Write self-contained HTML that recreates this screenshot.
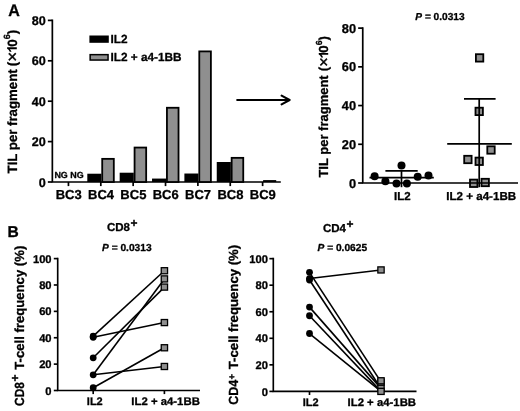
<!DOCTYPE html><html><head><meta charset="utf-8"><style>
html,body{margin:0;padding:0;background:#fff;}
svg{will-change:transform;}
svg{display:block;font-family:"Liberation Sans",sans-serif;font-weight:bold;fill:#000;}
text{stroke:#000;stroke-width:0.3px;stroke-linejoin:round;text-rendering:geometricPrecision;}
</style></head><body>
<svg width="520" height="411" viewBox="0 0 520 411">
<rect x="0" y="0" width="520" height="411" fill="#fff"/>
<text x="8.2" y="15.9" font-size="16.8" textLength="11.6" lengthAdjust="spacingAndGlyphs">A</text>
<text x="7.4" y="236.6" font-size="15.6">B</text>
<g stroke="#000" stroke-width="1.7" fill="none">
<path d="M52.35 19.550000000000004 V182.0 H280.8"/>
<path d="M47.85 182.0 H52.35"/>
<path d="M47.85 141.6 H52.35"/>
<path d="M47.85 101.2 H52.35"/>
<path d="M47.85 60.8 H52.35"/>
<path d="M47.85 20.400000000000006 H52.35"/>
</g>
<text x="45.75" y="186.5" font-size="12.6" text-anchor="end">0</text>
<text x="45.75" y="146.1" font-size="12.6" text-anchor="end">20</text>
<text x="45.75" y="105.7" font-size="12.6" text-anchor="end">40</text>
<text x="45.75" y="65.3" font-size="12.6" text-anchor="end">60</text>
<text x="45.75" y="24.900000000000006" font-size="12.6" text-anchor="end">80</text>
<path d="M68.45 182.0 V186.1" stroke="#000" stroke-width="1.7"/>
<text x="68.65" y="199.4" font-size="13" text-anchor="middle">BC3</text>
<text x="54.4" y="178.0" font-size="8.8" textLength="29.2" lengthAdjust="spacingAndGlyphs">NG NG</text>
<path d="M100.81 182.0 V186.1" stroke="#000" stroke-width="1.7"/>
<text x="101.01" y="199.4" font-size="13" text-anchor="middle">BC4</text>
<rect x="87.31" y="173.72" width="14.1" height="8.28" fill="#000"/>
<rect x="102.21" y="158.86" width="11.60" height="23.14" fill="#8f8f8f" stroke="#000" stroke-width="1.8"/>
<path d="M133.17000000000002 182.0 V186.1" stroke="#000" stroke-width="1.7"/>
<text x="133.37" y="199.4" font-size="13" text-anchor="middle">BC5</text>
<rect x="119.67" y="172.71" width="14.1" height="9.29" fill="#000"/>
<rect x="134.57" y="147.55" width="11.60" height="34.45" fill="#8f8f8f" stroke="#000" stroke-width="1.8"/>
<path d="M165.53 182.0 V186.1" stroke="#000" stroke-width="1.7"/>
<text x="165.73" y="199.4" font-size="13" text-anchor="middle">BC6</text>
<rect x="152.03" y="178.57" width="14.1" height="3.43" fill="#000"/>
<rect x="166.93" y="107.76" width="11.60" height="74.24" fill="#8f8f8f" stroke="#000" stroke-width="1.8"/>
<path d="M197.89 182.0 V186.1" stroke="#000" stroke-width="1.7"/>
<text x="198.08999999999997" y="199.4" font-size="13" text-anchor="middle">BC7</text>
<rect x="184.39" y="173.52" width="14.1" height="8.48" fill="#000"/>
<rect x="199.29" y="51.40" width="11.60" height="130.60" fill="#8f8f8f" stroke="#000" stroke-width="1.8"/>
<path d="M230.25 182.0 V186.1" stroke="#000" stroke-width="1.7"/>
<text x="230.45" y="199.4" font-size="13" text-anchor="middle">BC8</text>
<rect x="216.75" y="162.00" width="14.1" height="20.00" fill="#000"/>
<rect x="231.65" y="157.85" width="11.60" height="24.15" fill="#8f8f8f" stroke="#000" stroke-width="1.8"/>
<path d="M262.61 182.0 V186.1" stroke="#000" stroke-width="1.7"/>
<text x="262.81" y="199.4" font-size="13" text-anchor="middle">BC9</text>
<rect x="263.11" y="180.10" width="13.10" height="1.9" fill="#000"/>
<rect x="89.4" y="35.5" width="19.4" height="7.3" fill="#000"/>
<rect x="90.15" y="54.65" width="17.9" height="5.4" fill="#8f8f8f" stroke="#000" stroke-width="1.5"/>
<text x="110.5" y="43.3" font-size="11.8">IL2</text>
<text x="110.5" y="61.4" font-size="11.8">IL2 + a4-1BB</text>
<g transform="translate(16.8,173.4) rotate(-90)" font-size="13.4">
<text x="0" y="0" textLength="104.0" lengthAdjust="spacingAndGlyphs">TIL per fragment</text>
<text x="109.45" y="0" text-anchor="middle">(</text>
<text x="116.65" y="0.7" font-size="17" font-weight="normal" text-anchor="middle" style="stroke-width:0.4px">×</text>
<text x="134.1" y="0" text-anchor="end">0</text>
<path transform="translate(120.6,0) scale(13.4,-13.4)" d="M0.41 0 L0.41 0.722 L0.296 0.722 Q0.25 0.6 0.07 0.525 L0.07 0.39 Q0.19 0.43 0.27 0.517 L0.27 0 Z" stroke="none"/>
<text x="136.65" y="-6.9" font-size="9" text-anchor="middle">6</text>
<text x="139.1" y="0">)</text>
</g>
<path d="M237.2 100 H289.5 M281.6 95.7 L289.6 100 L281.6 104.3" stroke="#000" stroke-width="2.1" fill="none" stroke-linecap="round" stroke-linejoin="round"/>
<circle cx="374.6" cy="176.2" r="4"/>
<circle cx="385.4" cy="181.2" r="4"/>
<circle cx="396.5" cy="183.4" r="4"/>
<circle cx="406.9" cy="183.4" r="4"/>
<circle cx="401.5" cy="165.4" r="4"/>
<circle cx="417.7" cy="176.8" r="4"/>
<circle cx="428.5" cy="175.4" r="4"/>
<rect x="475.90000000000003" y="54.199999999999996" width="7.4" height="7.4" fill="#8f8f8f" stroke="#000" stroke-width="1.8"/>
<rect x="475.5" y="107.7" width="7.4" height="7.4" fill="#8f8f8f" stroke="#000" stroke-width="1.8"/>
<rect x="487.3" y="146.3" width="7.4" height="7.4" fill="#8f8f8f" stroke="#000" stroke-width="1.8"/>
<rect x="464.2" y="155.8" width="7.4" height="7.4" fill="#8f8f8f" stroke="#000" stroke-width="1.8"/>
<rect x="475.5" y="157.60000000000002" width="7.4" height="7.4" fill="#8f8f8f" stroke="#000" stroke-width="1.8"/>
<rect x="470.0" y="179.60000000000002" width="7.4" height="7.4" fill="#8f8f8f" stroke="#000" stroke-width="1.8"/>
<rect x="481.5" y="178.8" width="7.4" height="7.4" fill="#8f8f8f" stroke="#000" stroke-width="1.8"/>
<g stroke="#000" stroke-width="1.7" fill="none">
<path d="M369.5 177.7 H433.8 M385.4 170.8 H417.7 M401.5 170.8 V183"/>
<path d="M447.2 143.8 H511.8 M464 98.9 H495.6 M479.2 98.9 V183"/>
</g>
<g stroke="#000" stroke-width="1.7" fill="none">
<path d="M362.75 27.270000000000003 V183.0 H518"/>
<path d="M358.15 183.00 H362.75"/>
<path d="M358.15 144.28 H362.75"/>
<path d="M358.15 105.56 H362.75"/>
<path d="M358.15 66.84 H362.75"/>
<path d="M358.15 28.12 H362.75"/>
<path d="M401.5 183.0 V187.2"/>
<path d="M479.2 183.0 V187.2"/>
</g>
<text x="356.05" y="187.50" font-size="12.8" text-anchor="end">0</text>
<text x="356.05" y="148.78" font-size="12.8" text-anchor="end">20</text>
<text x="356.05" y="110.06" font-size="12.8" text-anchor="end">40</text>
<text x="356.05" y="71.34" font-size="12.8" text-anchor="end">60</text>
<text x="356.05" y="32.62" font-size="12.8" text-anchor="end">80</text>
<g transform="translate(328.2,177.6) rotate(-90)" font-size="13.1">
<text x="0" y="0" textLength="102.3" lengthAdjust="spacingAndGlyphs">TIL per fragment</text>
<text x="108.65" y="0" text-anchor="middle">(</text>
<text x="115.65" y="0.6" font-size="16" font-weight="normal" text-anchor="middle" style="stroke-width:0.4px">×</text>
<text x="132.2" y="0" text-anchor="end">0</text>
<path transform="translate(119.3,0) scale(13.1,-13.1)" d="M0.41 0 L0.41 0.722 L0.296 0.722 Q0.25 0.6 0.07 0.525 L0.07 0.39 Q0.19 0.43 0.27 0.517 L0.27 0 Z" stroke="none"/>
<text x="134.85" y="-6.7" font-size="8.8" text-anchor="middle">6</text>
<text x="137.2" y="0">)</text>
</g>
<text x="415.3" y="20.4" font-size="10.15"><tspan font-style="italic">P</tspan> = 0.0313</text>
<text x="402.3" y="199.6" font-size="11.5" text-anchor="middle">IL2</text>
<text x="481.2" y="199.6" font-size="11.5" text-anchor="middle" textLength="70" lengthAdjust="spacingAndGlyphs">IL2 + a4-1BB</text>
<g stroke="#000" stroke-width="1.65" fill="none">
<path d="M57.7 257.78 V390.5 H200"/>
<path d="M53.800000000000004 390.50 H57.7"/>
<path d="M53.800000000000004 364.12 H57.7"/>
<path d="M53.800000000000004 337.74 H57.7"/>
<path d="M53.800000000000004 311.36 H57.7"/>
<path d="M53.800000000000004 284.98 H57.7"/>
<path d="M53.800000000000004 258.60 H57.7"/>
<path d="M93.2 390.5 V394.1"/>
<path d="M164.4 390.5 V394.1"/>
</g>
<text x="51.6" y="394.60" font-size="11.2" text-anchor="end">0</text>
<text x="51.6" y="368.22" font-size="11.2" text-anchor="end">20</text>
<text x="51.6" y="341.84" font-size="11.2" text-anchor="end">40</text>
<text x="51.6" y="315.46" font-size="11.2" text-anchor="end">60</text>
<text x="51.6" y="289.08" font-size="11.2" text-anchor="end">80</text>
<text x="51.6" y="262.70" font-size="11.2" text-anchor="end">100</text>
<g stroke="#000" stroke-width="1.6" fill="none">
<path d="M93.2 336.16 L164.4 270.73"/>
<path d="M93.2 337.34 L164.4 322.57"/>
<path d="M93.2 357.79 L164.4 287.09"/>
<path d="M93.2 374.80 L164.4 278.91"/>
<path d="M93.2 374.80 L164.4 366.49"/>
<path d="M93.2 387.73 L164.4 347.76"/>
</g>
<circle cx="93.2" cy="336.16" r="3.4"/>
<circle cx="93.2" cy="337.34" r="3.4"/>
<circle cx="93.2" cy="357.79" r="3.4"/>
<circle cx="93.2" cy="374.80" r="3.4"/>
<circle cx="93.2" cy="387.73" r="3.4"/>
<rect x="161.25" y="267.68" width="6.3" height="6.1" fill="#8f8f8f" stroke="#000" stroke-width="1.3"/>
<rect x="161.25" y="275.86" width="6.3" height="6.1" fill="#8f8f8f" stroke="#000" stroke-width="1.3"/>
<rect x="161.25" y="284.04" width="6.3" height="6.1" fill="#8f8f8f" stroke="#000" stroke-width="1.3"/>
<rect x="161.25" y="319.52" width="6.3" height="6.1" fill="#8f8f8f" stroke="#000" stroke-width="1.3"/>
<rect x="161.25" y="344.71" width="6.3" height="6.1" fill="#8f8f8f" stroke="#000" stroke-width="1.3"/>
<rect x="161.25" y="363.44" width="6.3" height="6.1" fill="#8f8f8f" stroke="#000" stroke-width="1.3"/>
<text x="107" y="230.8" font-size="11.5">CD8<tspan font-size="12" dy="-3.8" dx="0.6">+</tspan></text>
<text x="102" y="250.7" font-size="10.2"><tspan font-style="italic">P</tspan> = 0.0313</text>
<g transform="translate(23.8,405.9) rotate(-90)" font-size="13.2">
<text x="0" y="0" textLength="23.9" lengthAdjust="spacingAndGlyphs">CD8</text>
<text x="28.0" y="-4.45" font-size="12" text-anchor="middle">+</text>
<text x="36.2" y="0" textLength="124.0" lengthAdjust="spacingAndGlyphs">T-cell frequency (%)</text>
</g>
<text x="94.8" y="405" font-size="11" text-anchor="middle">IL2</text>
<text x="165.6" y="405" font-size="11" text-anchor="middle" textLength="68.5" lengthAdjust="spacingAndGlyphs">IL2 + a4-1BB</text>
<g stroke="#000" stroke-width="1.65" fill="none">
<path d="M273.3 257.83 V391.4 H416.5"/>
<path d="M269.40000000000003 391.40 H273.3"/>
<path d="M269.40000000000003 364.85 H273.3"/>
<path d="M269.40000000000003 338.30 H273.3"/>
<path d="M269.40000000000003 311.75 H273.3"/>
<path d="M269.40000000000003 285.20 H273.3"/>
<path d="M269.40000000000003 258.65 H273.3"/>
<path d="M309.5 391.4 V395.0"/>
<path d="M381 391.4 V395.0"/>
</g>
<text x="268.0" y="395.50" font-size="11.2" text-anchor="end">0</text>
<text x="268.0" y="368.95" font-size="11.2" text-anchor="end">20</text>
<text x="268.0" y="342.40" font-size="11.2" text-anchor="end">40</text>
<text x="268.0" y="315.85" font-size="11.2" text-anchor="end">60</text>
<text x="268.0" y="289.30" font-size="11.2" text-anchor="end">80</text>
<text x="268.0" y="262.75" font-size="11.2" text-anchor="end">100</text>
<g stroke="#000" stroke-width="1.6" fill="none">
<path d="M309.5 278.56 L381 269.93"/>
<path d="M309.5 272.32 L381 381.84"/>
<path d="M309.5 280.02 L381 388.48"/>
<path d="M309.5 307.10 L381 388.35"/>
<path d="M309.5 315.73 L381 391.40"/>
<path d="M309.5 333.52 L381 391.40"/>
</g>
<circle cx="309.5" cy="272.32" r="3.4"/>
<circle cx="309.5" cy="278.56" r="3.4"/>
<circle cx="309.5" cy="280.02" r="3.4"/>
<circle cx="309.5" cy="307.10" r="3.4"/>
<circle cx="309.5" cy="315.73" r="3.4"/>
<circle cx="309.5" cy="333.52" r="3.4"/>
<rect x="377.85" y="266.88" width="6.3" height="6.1" fill="#8f8f8f" stroke="#000" stroke-width="1.3"/>
<rect x="377.85" y="384.90" width="6.3" height="6.1" fill="#8f8f8f" stroke="#000" stroke-width="1.3"/>
<rect x="377.85" y="379.06" width="6.3" height="6.1" fill="#8f8f8f" stroke="#000" stroke-width="1.3"/>
<rect x="377.85" y="377.73" width="6.3" height="6.1" fill="#8f8f8f" stroke="#000" stroke-width="1.3"/>
<rect x="377.85" y="388.35" width="6.3" height="6.1" fill="#8f8f8f" stroke="#000" stroke-width="1.3"/>
<text x="323" y="231.8" font-size="11.5">CD4<tspan font-size="12" dy="-3.8" dx="0.6">+</tspan></text>
<text x="317.5" y="250.7" font-size="10.2"><tspan font-style="italic">P</tspan> = 0.0625</text>
<g transform="translate(238.2,404.8) rotate(-90)" font-size="13.2">
<text x="0" y="0" textLength="25.1" lengthAdjust="spacingAndGlyphs">CD4</text>
<text x="28.1" y="-3.45" font-size="9.6" text-anchor="middle">+</text>
<text x="35.6" y="0" textLength="124.4" lengthAdjust="spacingAndGlyphs">T-cell frequency (%)</text>
</g>
<text x="310.6" y="406" font-size="11" text-anchor="middle">IL2</text>
<text x="381.8" y="406" font-size="11" text-anchor="middle" textLength="68.5" lengthAdjust="spacingAndGlyphs">IL2 + a4-1BB</text>
</svg></body></html>
